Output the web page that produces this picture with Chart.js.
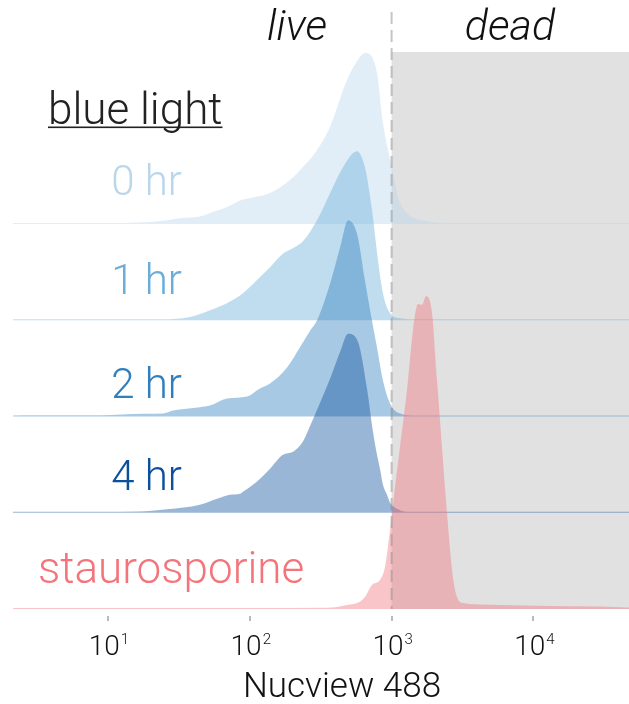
<!DOCTYPE html>
<html>
<head>
<meta charset="utf-8">
<script src="https://cdn.jsdelivr.net/npm/chart.js@4"></script>
<style>
  html, body { margin: 0; padding: 0; background: #fff; }
  canvas { display: block; }
</style>
</head>
<body>
<canvas id="ridges" width="629" height="704"></canvas>
<script>
// groups, top ridge first
const groups = ['0 hr', '1 hr', '2 hr', '4 hr', 'staurosporine'];

// Nucview 488 intensity grid and smoothed density (ridge units) per group
const x0hr = [2.14, 8.8, 19.8, 26.1, 32.2, 44.5, 52.4, 69, 85.3, 105, 139, 192, 237, 298, 368, 485, 570, 649, 789, 869, 944, 1024, 1109, 1284, 1585, 3034, 47200];
const d0hr = [0.01, 0.01, 0.022, 0.04, 0.06, 0.078, 0.114, 0.177, 0.245, 0.275, 0.322, 0.457, 0.592, 0.769, 1.008, 1.496, 1.69, 1.777, 1.57, 1.049, 0.769, 0.53, 0.281, 0.114, 0.042, 0.01, 0.01];

const x1hr = [2.14, 24.4, 37.9, 52.4, 69, 89.5, 112, 139, 171, 202, 237, 298, 368, 454, 570, 649, 727, 802, 869, 975, 1146, 1511, 47200];
const d1hr = [0.01, 0.01, 0.034, 0.104, 0.177, 0.281, 0.416, 0.551, 0.69, 0.75, 0.821, 1.039, 1.319, 1.59, 1.756, 1.59, 1.15, 0.623, 0.281, 0.073, 0.021, 0.01, 0.01];

const x2hr = [2.14, 2.96, 8.8, 17.7, 24.4, 28.7, 44.5, 52.4, 69, 95.5, 118, 139, 183, 226, 266, 298, 368, 433, 493, 570, 649, 727, 789, 869, 975, 1146, 1511, 47200];
const d2hr = [0.01, 0.012, 0.012, 0.028, 0.031, 0.062, 0.097, 0.114, 0.187, 0.208, 0.291, 0.343, 0.51, 0.72, 0.89, 1.0, 1.38, 1.756, 2.036, 1.9, 1.413, 0.997, 0.717, 0.374, 0.135, 0.031, 0.01, 0.01];

const x4hr = [2.14, 8.8, 16, 26.1, 44.5, 58.7, 72.5, 85.3, 89.5, 112, 139, 171, 202, 237, 266, 298, 368, 433, 493, 579, 671, 739, 789, 828, 869, 928, 975, 1092, 1284, 47200];
const d4hr = [0.01, 0.01, 0.012, 0.036, 0.083, 0.145, 0.187, 0.197, 0.218, 0.322, 0.457, 0.603, 0.634, 0.74, 0.9, 1.07, 1.392, 1.67, 1.86, 1.777, 1.288, 0.842, 0.603, 0.457, 0.291, 0.187, 0.104, 0.042, 0.01, 0.01];

const xStauro = [2.14, 100, 350, 485, 598, 649, 727, 828, 898, 975, 1057, 1146, 1284, 1416, 1536, 1637, 1749, 1928, 2090, 2266, 2459, 2667, 2892, 3190, 4200, 5810, 13090, 29500, 47200];
const dStauro = [0.01, 0.01, 0.012, 0.042, 0.076, 0.125, 0.249, 0.301, 0.436, 0.821, 1.268, 1.683, 2.275, 2.899, 3.17, 3.16, 3.25, 3.075, 2.379, 1.683, 0.997, 0.405, 0.125, 0.062, 0.047, 0.042, 0.031, 0.026, 0.016];

// x axis
const xMin = 2.14;
const xMax = 47200;
const tickValues = [10, 100, 1000, 10000];
const tickBase = '10';
const tickExponents = ['1', '2', '3', '4'];
const deadThreshold = 1000;

const seriesX = [x0hr, x1hr, x2hr, x4hr, xStauro];
const seriesD = [d0hr, d1hr, d2hr, d4hr, dStauro];
const labelColors = ['#b9d6eb', '#6aadd8', '#2f7fbe', '#0c509d', '#f3757b'];

const FONT = 'Roboto, "Liberation Sans", sans-serif';
const nRidges = groups.length;

function withAlpha(hex, a) {
  const n = parseInt(hex.slice(1), 16);
  return `rgba(${n >> 16}, ${(n >> 8) & 255}, ${n & 255}, ${a})`;
}

// each ridge sits on its own baseline: staurosporine at 0, 0 hr at the top
const datasets = groups.map((g, i) => {
  const offset = nRidges - 1 - i;
  return {
    label: g,
    data: seriesX[i].map((x, k) => ({ x: x, y: offset + seriesD[i][k] })),
    fill: { value: offset },
    backgroundColor: withAlpha(labelColors[i], 0.42),
    borderColor: 'transparent',
    pointRadius: 0,
    cubicInterpolationMode: 'monotone',
    order: nRidges - i
  };
});

const backdrop = {
  id: 'backdrop',
  beforeDatasetsDraw(chart) {
    const { ctx, chartArea, scales } = chart;
    const xd = scales.x.getPixelForValue(deadThreshold);
    ctx.save();
    ctx.fillStyle = '#e1e1e1';
    ctx.fillRect(xd, chartArea.top, chartArea.right - xd, chartArea.bottom - chartArea.top);
    ctx.restore();
  }
};

const annotations = {
  id: 'annotations',
  afterDatasetsDraw(chart) {
    const { ctx, chartArea, scales } = chart;
    const xs = scales.x;
    const xd = xs.getPixelForValue(deadThreshold);

    // live / dead divider
    ctx.save();
    ctx.strokeStyle = 'rgba(140, 140, 140, 0.5)';
    ctx.lineWidth = 2;
    ctx.setLineDash([12, 6]);
    ctx.beginPath();
    ctx.moveTo(xd, 12);
    ctx.lineTo(xd, chartArea.bottom);
    ctx.stroke();
    ctx.restore();

    ctx.save();
    ctx.textBaseline = 'alphabetic';

    ctx.fillStyle = '#111';
    ctx.font = `italic 300 43px ${FONT}`;
    ctx.textAlign = 'center';
    ctx.fillText('live', 297, 40);
    ctx.fillText('dead', 510, 40);

    // legend heading
    ctx.font = `300 44px ${FONT}`;
    ctx.textAlign = 'left';
    ctx.fillStyle = '#222';
    ctx.fillText('blue light', 48, 124);
    const w = ctx.measureText('blue light').width;
    ctx.fillRect(48, 126.5, w, 1.6);

    // group labels
    const labelY = [195, 294, 398, 490];
    ctx.font = `300 42px ${FONT}`;
    ctx.textAlign = 'right';
    for (let i = 0; i < 4; i++) {
      ctx.fillStyle = labelColors[i];
      ctx.fillText(groups[i], 182, labelY[i]);
    }
    ctx.textAlign = 'left';
    ctx.font = `300 44px ${FONT}`;
    ctx.fillStyle = labelColors[4];
    ctx.fillText(groups[4], 38, 583);

    // log axis ticks and labels
    tickValues.forEach((v, i) => {
      const px = xs.getPixelForValue(v);
      ctx.fillStyle = '#777';
      ctx.fillRect(Math.round(px) - 0.5, 616, 1, 5);
      ctx.font = `300 28px ${FONT}`;
      const wb = ctx.measureText(tickBase).width;
      ctx.font = `300 15px ${FONT}`;
      const we = ctx.measureText(tickExponents[i]).width;
      const left = px + 1 - (wb + we + 1) / 2;
      ctx.fillStyle = '#111';
      ctx.textAlign = 'left';
      ctx.font = `300 28px ${FONT}`;
      ctx.fillText(tickBase, left, 655);
      ctx.font = `300 15px ${FONT}`;
      ctx.fillText(tickExponents[i], left + wb + 1, 644);
    });

    ctx.font = `300 35px ${FONT}`;
    ctx.textAlign = 'center';
    ctx.fillStyle = '#111';
    ctx.fillText('Nucview 488', 342, 697);
    ctx.restore();
  }
};

new Chart(document.getElementById('ridges'), {
  type: 'line',
  data: { datasets: datasets },
  options: {
    responsive: false,
    animation: false,
    layout: { padding: { left: 13, right: 0, top: 52, bottom: 95 } },
    plugins: { legend: { display: false }, tooltip: { enabled: false } },
    scales: {
      x: { type: 'logarithmic', min: xMin, max: xMax, bounds: 'data', display: false },
      y: { type: 'linear', min: 0, max: 5.787, display: false }
    }
  },
  plugins: [backdrop, annotations]
});
</script>
</body>
</html>
